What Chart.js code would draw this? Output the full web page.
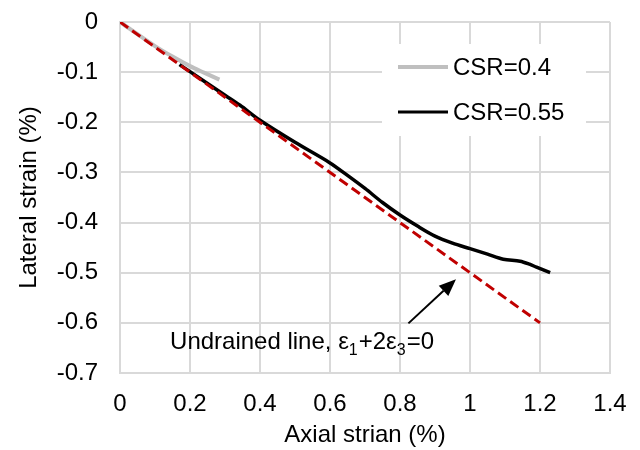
<!DOCTYPE html>
<html>
<head>
<meta charset="utf-8">
<script src="https://cdn.jsdelivr.net/npm/chart.js@4/dist/chart.umd.min.js"></script>
<style>
  html, body { margin: 0; padding: 0; background: #fff; }
  #wrap { width: 640px; height: 450px; position: relative; }
</style>
</head>
<body>
<div id="wrap"><canvas id="chart"></canvas></div>
<script>
// CSR = 0.4 (grey)
const csr04X = [0, 0.1, 0.15, 0.2, 0.24, 0.284];
const csr04Y = [0, -0.048, -0.069, -0.088, -0.101, -0.115];

// CSR = 0.55 (black)
const csr055X = [0.17, 0.2, 0.3, 0.343, 0.4, 0.5, 0.6, 0.65, 0.7, 0.75, 0.8, 0.85, 0.9, 0.95, 1.0, 1.05, 1.095, 1.143, 1.17, 1.19, 1.229];
const csr055Y = [-0.085, -0.099, -0.146, -0.166, -0.196, -0.24, -0.281, -0.306, -0.332, -0.36, -0.385, -0.407, -0.427, -0.441, -0.452, -0.463, -0.473, -0.477, -0.483, -0.489, -0.5];

// undrained line eps1 + 2 eps3 = 0
const undrainedX = [0, 1.2];
const undrainedY = [0, -0.6];

const seriesNames = ["CSR=0.4", "CSR=0.55"];

// arrow tail / head and label anchor, in data units
const arrowFrom = [0.824, -0.601];
const arrowTo = [0.96, -0.513];
const labelAt = [0.143, -0.653];

const FONT = "'Liberation Sans', Arial, sans-serif";
const GRID = "#d9d9d9";
const RED = "#c00000";

const toPts = (xs, ys) => xs.map((x, i) => ({ x, y: ys[i] }));
const tickText = (v) => String(Number(v.toFixed(2)));

// white box behind the legend, then the legend itself
const legendBox = {
  id: "legendBox",
  beforeDatasetsDraw(chart) {
    const ctx = chart.ctx;
    ctx.save();
    ctx.fillStyle = "#fff";
    ctx.fillRect(382, 44, 204, 92);
    ctx.restore();
  },
  afterDatasetsDraw(chart) {
    const ctx = chart.ctx;
    const rows = [
      { color: "#bfbfbf", width: 4, y: 67 },
      { color: "#000", width: 3, y: 112 },
    ];
    ctx.save();
    ctx.font = "24px " + FONT;
    ctx.textBaseline = "middle";
    ctx.fillStyle = "#000";
    rows.forEach((r, i) => {
      ctx.strokeStyle = r.color;
      ctx.lineWidth = r.width;
      ctx.beginPath();
      ctx.moveTo(398, r.y);
      ctx.lineTo(448, r.y);
      ctx.stroke();
      ctx.fillText(seriesNames[i], 453, r.y + 1);
    });
    ctx.restore();
  },
};

// arrow and "Undrained line" label
const annotation = {
  id: "annotation",
  afterDatasetsDraw(chart) {
    const { ctx, scales } = chart;
    const px = (p) => [scales.x.getPixelForValue(p[0]), scales.y.getPixelForValue(p[1])];
    const [x0, y0] = px(arrowFrom);
    const [x1, y1] = px(arrowTo);
    const ang = Math.atan2(y1 - y0, x1 - x0);
    const headLen = 17, headW = 7;
    const bx = x1 - headLen * Math.cos(ang), by = y1 - headLen * Math.sin(ang);

    ctx.save();
    ctx.strokeStyle = "#000";
    ctx.fillStyle = "#000";
    ctx.lineWidth = 2;
    ctx.beginPath();
    ctx.moveTo(x0, y0);
    ctx.lineTo(bx, by);
    ctx.stroke();
    ctx.beginPath();
    ctx.moveTo(x1, y1);
    ctx.lineTo(bx + headW * Math.sin(ang), by - headW * Math.cos(ang));
    ctx.lineTo(bx - headW * Math.sin(ang), by + headW * Math.cos(ang));
    ctx.closePath();
    ctx.fill();

    // label with subscripts
    let [tx, ty] = px(labelAt);
    const parts = [
      ["Undrained line, \u03b5", false],
      ["1", true],
      ["+2\u03b5", false],
      ["3", true],
      ["=0", false],
    ];
    ctx.textBaseline = "alphabetic";
    parts.forEach(([s, sub]) => {
      ctx.font = (sub ? "16px " : "24px ") + FONT;
      ctx.fillText(s, tx, sub ? ty + 6 : ty);
      tx += ctx.measureText(s).width + (sub ? 1 : 0);
    });
    ctx.restore();
  },
};

new Chart(document.getElementById("chart"), {
  type: "scatter",
  data: {
    datasets: [
      {
        label: seriesNames[0],
        data: toPts(csr04X, csr04Y),
        showLine: true,
        borderColor: "#bfbfbf",
        borderWidth: 4,
        pointRadius: 0,
        tension: 0.3,
        order: 3,
      },
      {
        label: seriesNames[1],
        data: toPts(csr055X, csr055Y),
        showLine: true,
        borderColor: "#000",
        borderWidth: 3.5,
        pointRadius: 0,
        tension: 0.3,
        order: 2,
      },
      {
        label: "Undrained line",
        data: toPts(undrainedX, undrainedY),
        showLine: true,
        borderColor: RED,
        borderWidth: 3,
        borderDash: [10, 5],
        pointRadius: 0,
        order: 1,
      },
    ],
  },
  options: {
    responsive: true,
    maintainAspectRatio: false,
    animation: false,
    layout: { padding: { left: 0, top: 22, right: 30, bottom: 0 } },
    plugins: {
      legend: { display: false },
      tooltip: { enabled: false },
    },
    scales: {
      x: {
        type: "linear",
        min: 0,
        max: 1.4,
        afterFit: (s) => {
          s.height = 77;
          s.paddingLeft = 0;
          s.paddingRight = 0;
        },
        ticks: {
          stepSize: 0.2,
          padding: 17,
          color: "#000",
          font: { family: FONT, size: 24 },
          maxRotation: 0,
          callback: tickText,
        },
        grid: { color: GRID, lineWidth: 2, drawTicks: false },
        border: { color: GRID, width: 2 },
        title: {
          display: true,
          text: "Axial strian (%)",
          color: "#000",
          font: { family: FONT, size: 24 },
          padding: { top: 4, bottom: 0 },
        },
      },
      y: {
        type: "linear",
        min: -0.7,
        max: 0,
        afterFit: (s) => {
          s.width = 120;
          s.paddingTop = 0;
          s.paddingBottom = 0;
        },
        ticks: {
          stepSize: 0.1,
          padding: 22,
          color: "#000",
          font: { family: FONT, size: 24 },
          callback: tickText,
        },
        grid: { color: GRID, lineWidth: 2, drawTicks: false },
        border: { color: GRID, width: 2 },
        title: {
          display: true,
          text: "Lateral strain (%)",
          color: "#000",
          font: { family: FONT, size: 24 },
          padding: { top: 15, bottom: 0 },
        },
      },
    },
  },
  plugins: [legendBox, annotation],
});
</script>
</body>
</html>
